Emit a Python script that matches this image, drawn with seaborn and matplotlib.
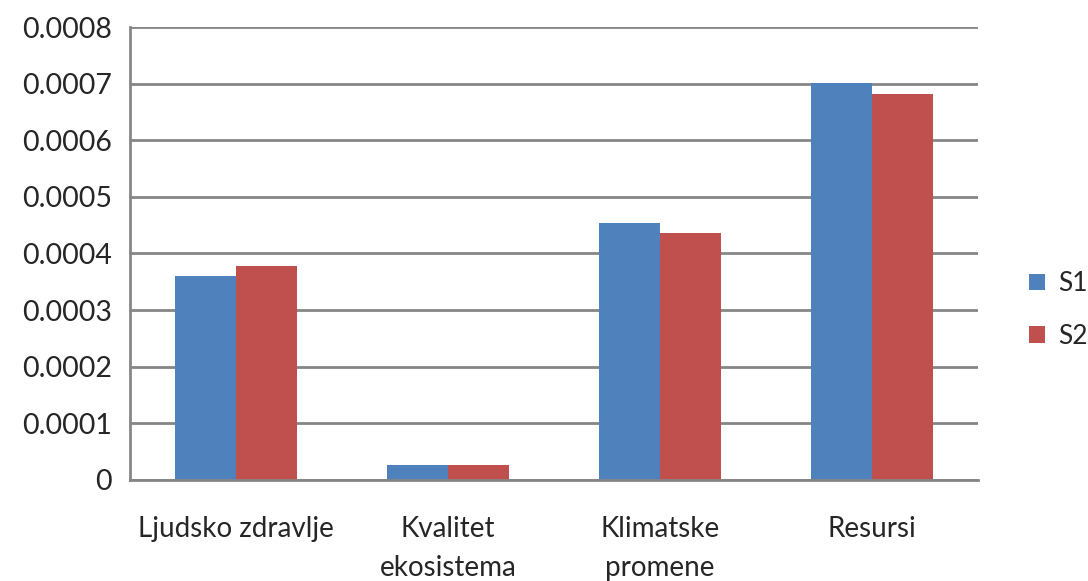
import pandas as pd
import matplotlib.pyplot as plt
import seaborn as sns
from matplotlib.ticker import FixedLocator

kategorije = ["Ljudsko zdravlje", "Kvalitet\nekosistema", "Klimatske\npromene", "Resursi"]
s1 = [0.000361, 0.000027, 0.000453, 0.000701]
s2 = [0.000377, 0.000027, 0.000436, 0.000681]

df = pd.DataFrame({
    "kategorija": kategorije * 2,
    "vrednost": s1 + s2,
    "serija": ["S1"] * 4 + ["S2"] * 4,
})

sns.set_style("white")
plt.rcParams["font.family"] = ["Lato", "DejaVu Sans"]

siva = "#868686"

fig = plt.figure(figsize=(10.88, 5.81), dpi=100)
ax = fig.add_axes([0.1195, 0.174, 0.779, 0.7795])

sns.barplot(data=df, x="kategorija", y="vrednost", hue="serija",
            palette=["#4F81BD", "#C0504D"], width=0.575, gap=0,
            saturation=1, ax=ax, errorbar=None, linewidth=0)

ax.set_ylim(0, 0.0008)
ax.set_xlim(-0.5, 3.5)
ax.set_yticks([i * 0.0001 for i in range(9)])
ax.set_yticklabels(["0"] + [f"{i * 0.0001:.4f}" for i in range(1, 9)])
ax.yaxis.grid(True, color=siva, linewidth=2)
ax.set_axisbelow(True)

ax.xaxis.set_minor_locator(FixedLocator([-0.5, 0.5, 1.5, 2.5, 3.5]))
ax.tick_params(axis="x", which="major", length=0, pad=26, labelsize=20)
ax.tick_params(axis="x", which="minor", length=7, width=2, color=siva)
ax.tick_params(axis="y", length=7, width=2, color=siva, labelsize=20.5, pad=6)
for t in ax.get_xticklabels():
    t.set_linespacing(1.6)

for s in ["top", "right"]:
    ax.spines[s].set_visible(False)
for s in ["left", "bottom"]:
    ax.spines[s].set_color(siva)
    ax.spines[s].set_linewidth(2)

ax.set_xlabel("")
ax.set_ylabel("")

ax.legend(title=None, frameon=False, loc="center left", bbox_to_anchor=(1.033, 0.375),
          fontsize=19, handlelength=0.6, handleheight=0.6, labelspacing=1.05,
          handletextpad=0.5)

fig.savefig("out.png", dpi=100)
